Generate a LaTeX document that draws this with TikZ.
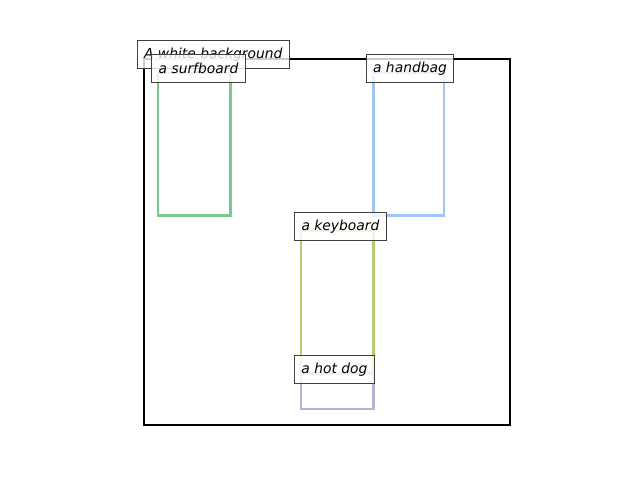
\documentclass[tikz,border=0pt]{standalone}
\usepackage{fontspec}
\setmainfont{DejaVu Sans}
\definecolor{surfgreen}{RGB}{122,200,140}
\definecolor{bagblue}{RGB}{160,196,245}
\definecolor{keyolive}{RGB}{180,205,112}
\definecolor{doglilac}{RGB}{178,180,210}
\definecolor{tagedge}{RGB}{64,64,64}
\tikzset{
	objbox/.style={line width=1.5pt},
	tag/.style={draw=tagedge,line width=0.75pt,fill=white,fill opacity=0.8,text opacity=1,
		font=\itshape\fontsize{10}{12}\selectfont,inner xsep=5pt,inner ysep=0pt,minimum height=20pt,anchor=center}
}
\begin{document}
\begin{tikzpicture}[x=0.01in,y=-0.01in]
		\useasboundingbox (0,0) rectangle (640,480);
		\draw[line width=1.5pt,black] (144,59) rectangle (510,425);
		\draw[objbox,surfgreen] (158,73) rectangle (230.5,215.5);
		\draw[objbox,bagblue] (373.5,73) rectangle (444,215.5);
		\draw[objbox,keyolive] (301,231) rectangle (373.5,373);
		\draw[objbox,doglilac] (301,373.5) rectangle (373.5,409);
		\node[tag] (bg) at (213.3,54.2) {A white background};
		\node[tag] (surfboard) at (198.5,68.3) {a surfboard};
		\node[tag] (handbag) at (410,68.5) {a handbag};
		\node[tag] (keyboard) at (340.5,226.7) {a keyboard};
		\node[tag] (hotdog) at (334.5,369.3) {a hot dog};
		
		\end{tikzpicture}
\end{document}
